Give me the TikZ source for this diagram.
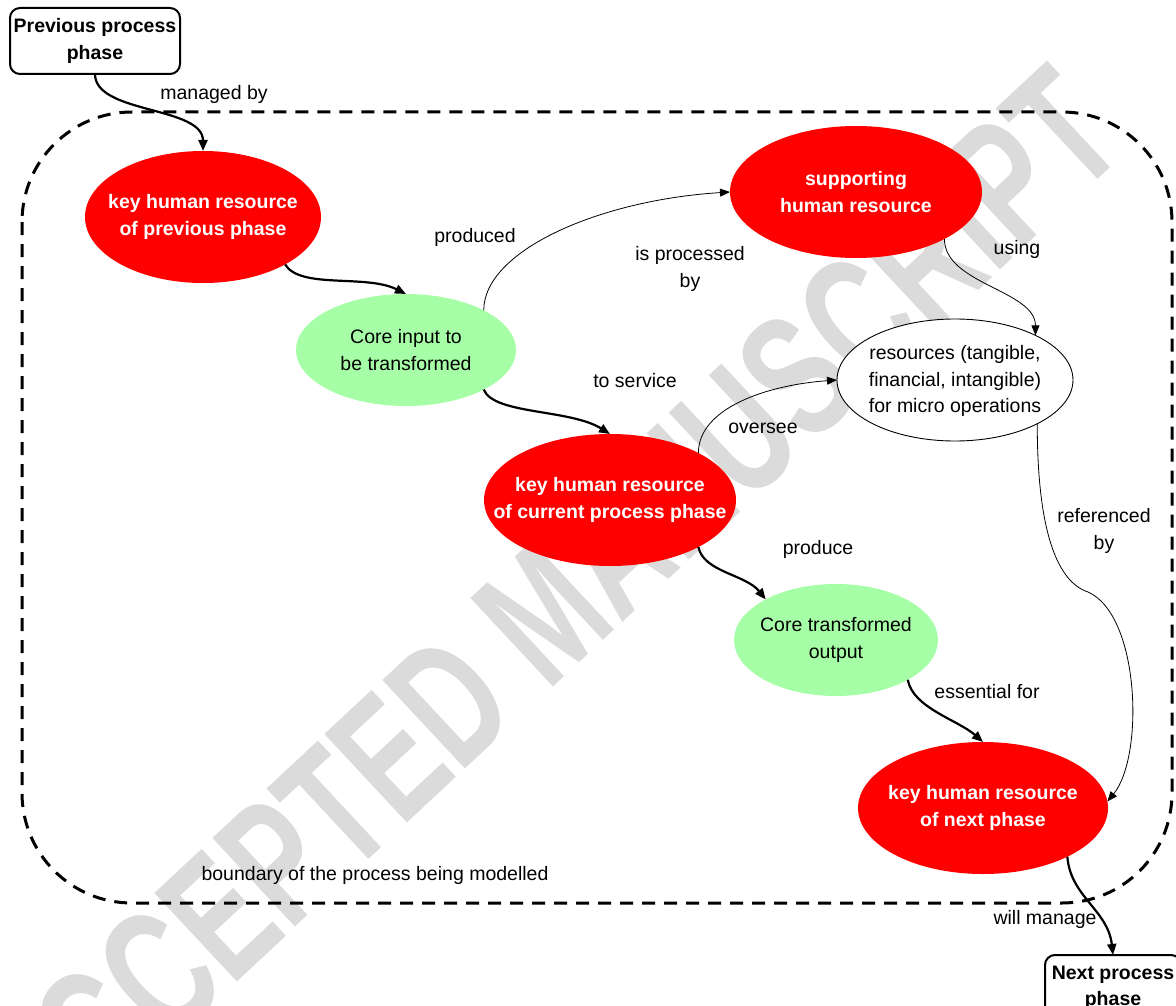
\documentclass[tikz,border=0pt]{standalone}
\usepackage{fontspec}
\setmainfont{Liberation Sans}
\usetikzlibrary{arrows.meta,shapes.geometric}
\definecolor{hrred}{RGB}{255,0,0}
\definecolor{coregreen}{RGB}{166,255,166}
\definecolor{wmgray}{RGB}{219,219,219}
\begin{document}
\begin{tikzpicture}[x=1pt,y=-1pt,
  every node/.style={font=\fontsize{19.5}{26.5}\selectfont, align=center, inner sep=0pt, outer sep=0pt},
  hrshape/.style={ellipse, fill=hrred, draw=none},
  greenshape/.style={ellipse, fill=coregreen, draw=none},
  resshape/.style={ellipse, fill=white, draw=black, line width=0.9pt},
  hrtext/.style={text=white, font=\bfseries\fontsize{19.5}{26.5}\selectfont},
  phasebox/.style={draw=black, line width=2pt, rounded corners=10pt, fill=white, font=\bfseries\fontsize{19.5}{26.5}\selectfont},
  lbl/.style={text=black},
  thickarrow/.style={line width=2.2pt, -{Triangle[length=11pt,width=9pt]}},
  thinarrow/.style={line width=0.8pt, -{Triangle[length=10pt,width=8pt]}},
  boundary/.style={line width=3pt, dash pattern=on 13pt off 9pt, rounded corners=110pt},
  wm/.style={text=wmgray, font=\bfseries\fontsize{176}{176}\selectfont, rotate=43}
]
\useasboundingbox (0,0) rectangle (1176,1006);

% watermark
\node[wm] (wmark) at (545,612) {\scalebox{0.68}[1]{ACCEPTED MANUSCRIPT}};

% boundary
\draw[boundary] (22,112) rectangle (1172,903);
\node[lbl] (bndlbl) at (375,875) {boundary of the process being modelled};

% phase boxes
\node[phasebox, minimum width=170pt, minimum height=66pt] (pbox) at (95,41) {Previous process\\phase};
\node[phasebox, minimum width=136pt, minimum height=66pt] (nbox) at (1113,988) {Next process\\phase};

% ellipses
\node[hrshape, minimum width=236pt, minimum height=132pt] (kprev) at (203,217) {};
\node[hrtext] (kprevT) at (kprev) {key human resource\\of previous phase};
\node[hrshape, minimum width=252pt, minimum height=132pt] (sup) at (856,192) {};
\node[hrtext] (supT) at (sup) {supporting\\human resource};
\node[hrshape, minimum width=252pt, minimum height=132pt] (cur) at (610,500) {};
\node[hrtext] (curT) at (cur) {key human resource\\of current process phase};
\node[hrshape, minimum width=250pt, minimum height=132pt] (next) at (983,808) {};
\node[hrtext] (nextT) at (next) {key human resource\\of next phase};
\node[greenshape, minimum width=220pt, minimum height=112pt] (cin) at (406,350) {};
\node (cinT) at (cin) {Core input to\\be transformed};
\node[greenshape, minimum width=204pt, minimum height=112pt] (cout) at (836,640) {};
\node (coutT) at (cout) {Core transformed\\output};
\node[resshape, minimum width=236pt, minimum height=122pt] (res) at (955,380) {};
\node (resT) at (955,381) {resources (tangible,\\financial, intangible)\\for micro operations};

% connectors
\draw[thickarrow] (pbox.south) .. controls +(0,40) and +(0,-45) .. (kprev.north);
\draw[thickarrow] (kprev.-30) .. controls +(15,25) and +(-40,-20) .. (cin.north);
\draw[thickarrow] (cin.-27) .. controls +(10,25) and +(-40,-25) .. (cur.north);
\draw[thinarrow] (cin.27) .. controls +(0,-60) and +(-130,8) .. (sup.west);
\draw[thinarrow] (sup.-28) .. controls +(0,45) and +(0,-45) .. (res.29);
\draw[thinarrow] (cur.28) .. controls +(0,-45) and +(-70,5) .. (res.west);
\draw[thickarrow] (cur.-28) .. controls +(5,25) and +(-20,-25) .. (cout.150);
\draw[thickarrow] (cout.-29) .. controls +(5,28) and +(-25,-22) .. (next.north);
\coordinate (ibend) at (1088,592);
\draw[thinarrow] (res.-28) .. controls +(0,110) and +(-30,-10) .. (ibend) .. controls +(52,23) and +(37,-45) .. (next.3);
\draw[thickarrow] (next.-30) .. controls +(3,40) and +(-5,-45) .. (nbox.north);

% labels
\node[lbl] (l1) at (214,94) {managed by};
\node[lbl] (l2) at (475,237) {produced};
\node[lbl] (l3) at (690,269) {is processed\\by};
\node[lbl] (l4) at (1017,249) {using};
\node[lbl] (l5) at (635,381) {to service};
\node[lbl] (l6) at (763,428) {oversee};
\node[lbl] (l7) at (1104,531) {referenced\\by};
\node[lbl] (l8) at (818,549) {produce};
\node[lbl] (l9) at (987,692) {essential for};
\node[lbl] (l10) at (1045,919) {will manage};
\end{tikzpicture}
\end{document}
